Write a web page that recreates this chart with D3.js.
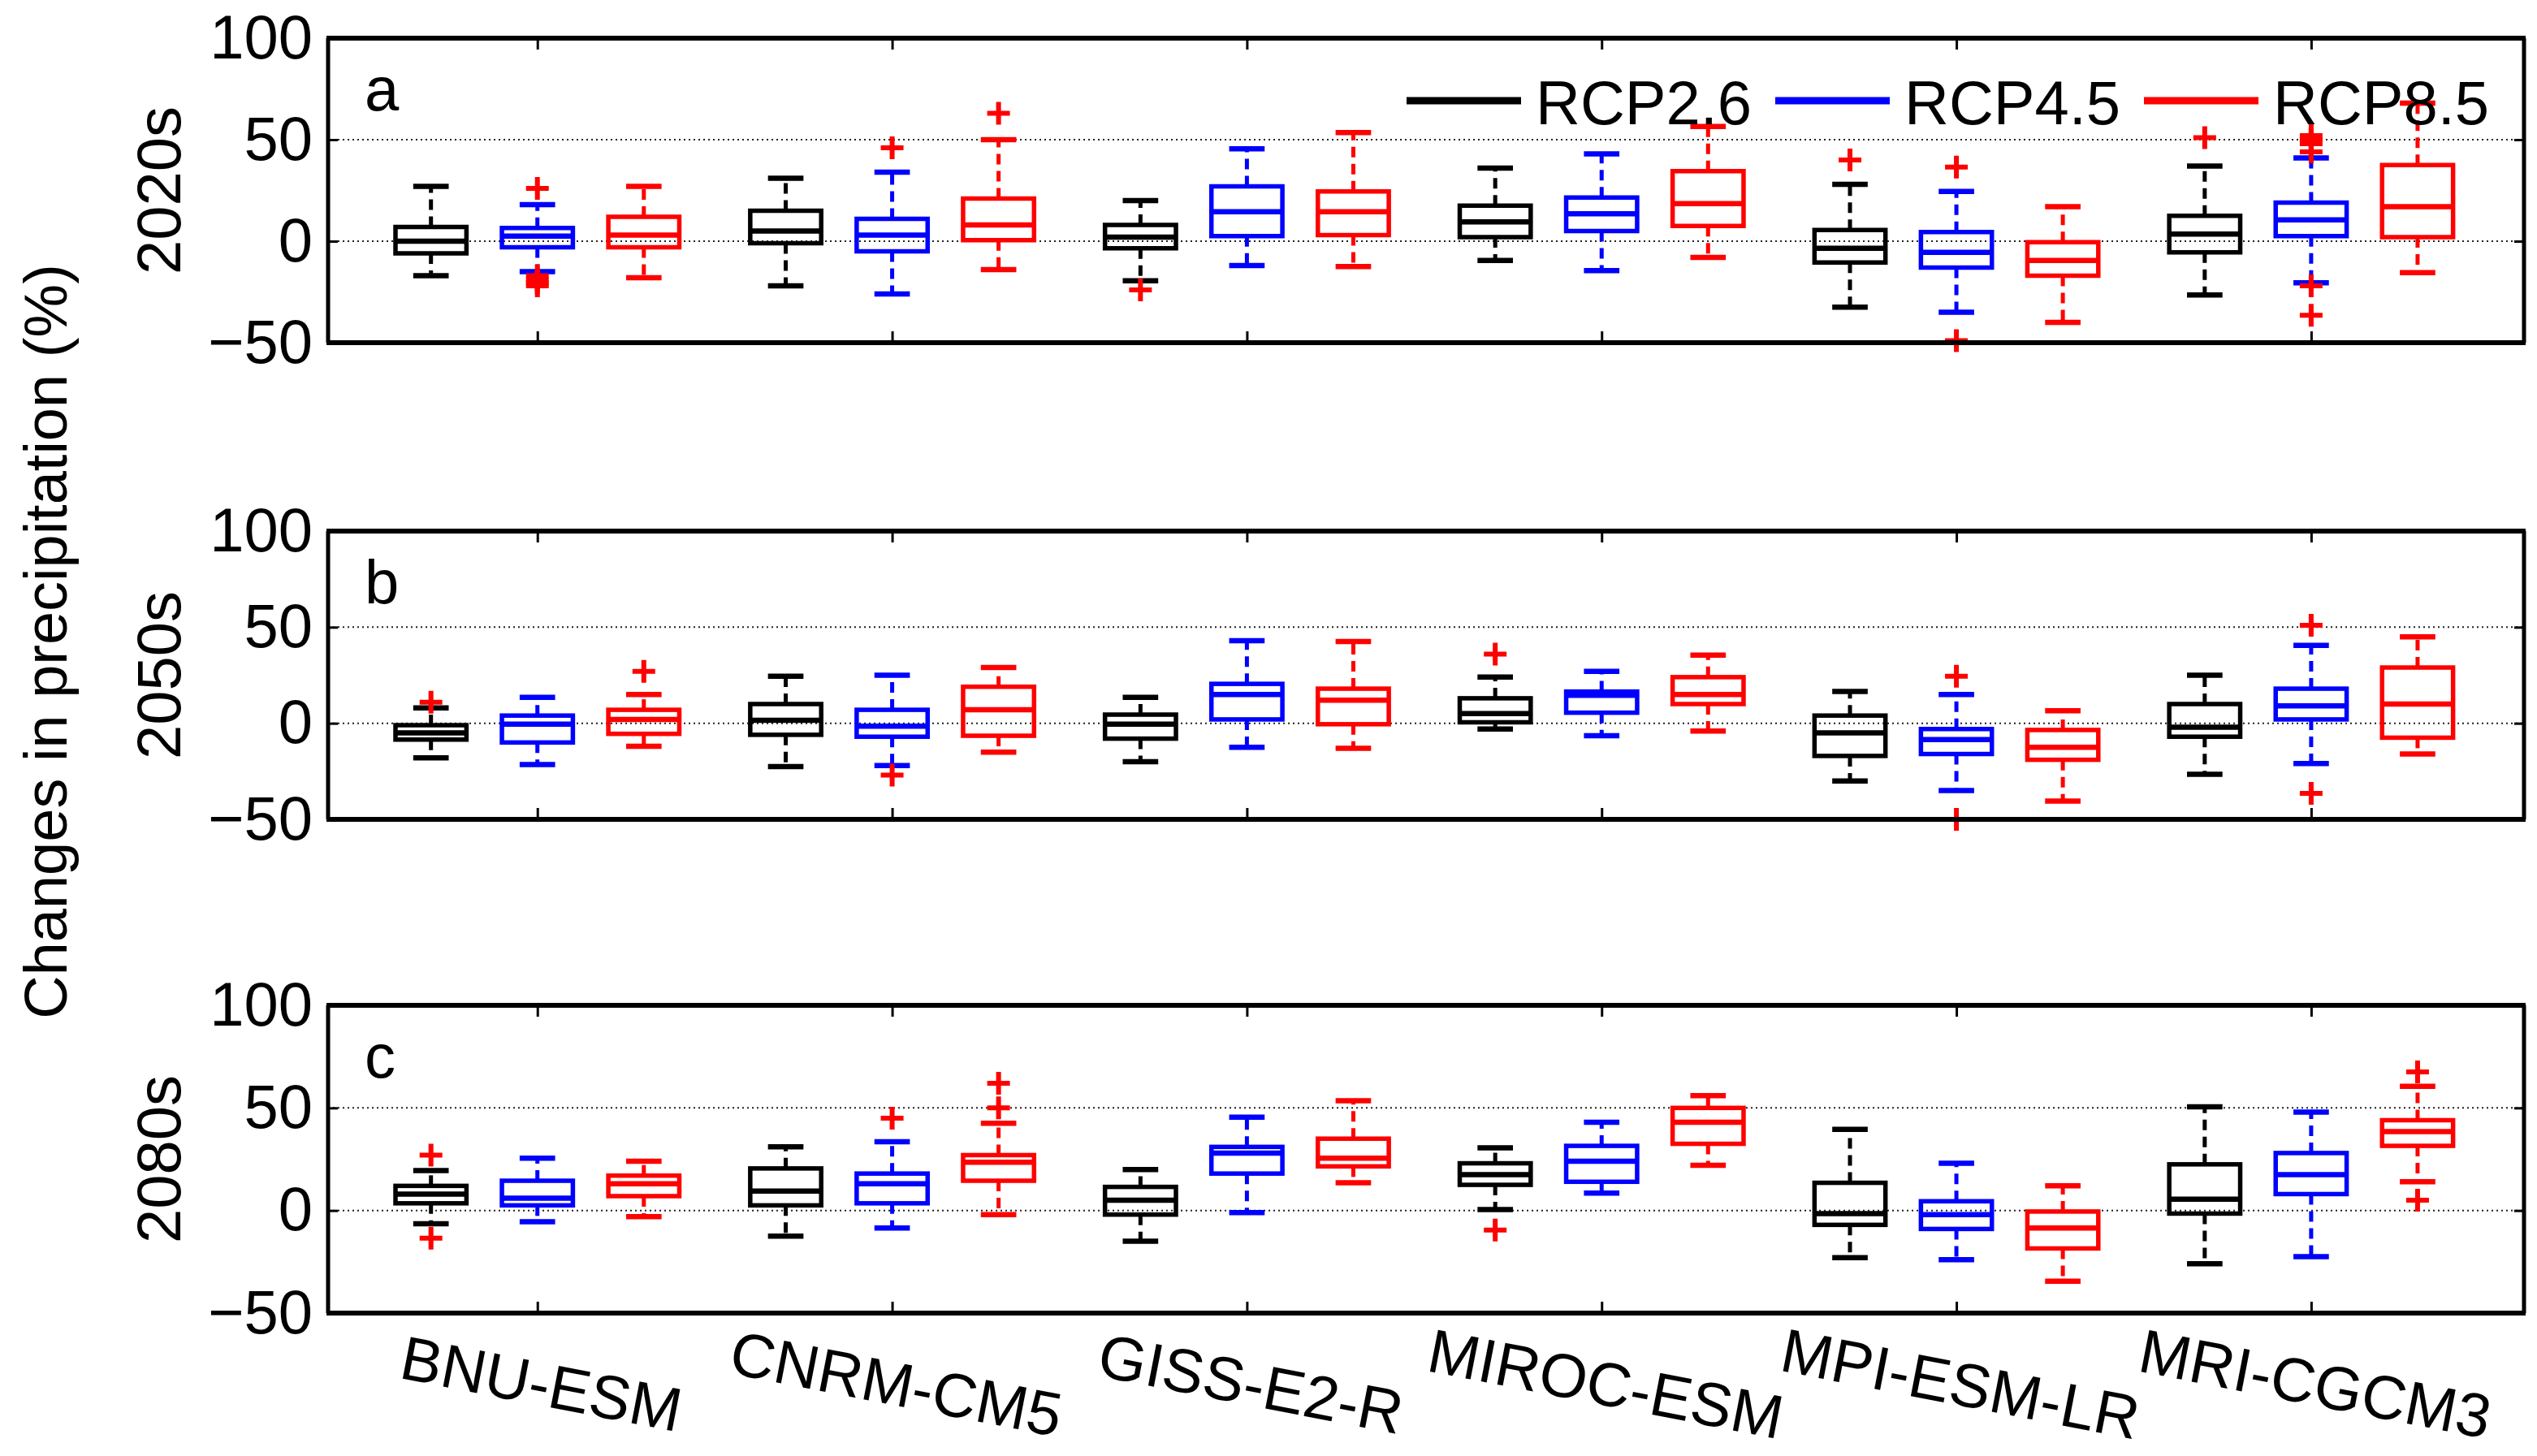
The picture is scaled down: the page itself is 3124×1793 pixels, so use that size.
<!DOCTYPE html>
<html><head><meta charset="utf-8">
<script src="https://cdn.jsdelivr.net/npm/d3@7"></script>
<style>html,body{margin:0;padding:0;background:#fff;} svg{display:block;}</style>
</head><body>
<script>
// ---------------- DATA ----------------
const models = ["BNU-ESM","CNRM-CM5","GISS-E2-R","MIROC-ESM","MPI-ESM-LR","MRI-CGCM3"];
const scenarios = ["RCP2.6","RCP4.5","RCP8.5"];
const scenarioColors = ["#000000","#0000ff","#ff0000"];
const periods = ["2020s","2050s","2080s"];
const panelLetters = ["a","b","c"];
const yTicks = [-50, 0, 50, 100];
const gridValues = [0, 50];

// per model, per scenario: [lower whisker, q1, median, q3, upper whisker]
const stats2020s = [
  [[-17,-6,0,7,27],      [-15,-3,2.5,6.5,18],   [-18,-3,3,12,27]],
  [[-22,-1,5,15,31],     [-26,-5,3,11,34],      [-14,0.5,8,21,50]],
  [[-19.5,-3.5,2,8,20],  [-12,2.5,14.5,27,45.5],[-12.5,3,14.5,24.5,53.5]],
  [[-9.5,2,9.5,17.5,36], [-14.5,5,13.5,21.5,43],[-8,7.5,18.5,34.5,56.5]],
  [[-32.5,-10.5,-3.5,5.5,28],[-35,-13,-5.5,4.5,24.5],[-40,-17,-9.5,-0.5,17]],
  [[-26.5,-5.5,3.5,12.5,37],[-20.5,2.5,10.5,19,41],[-15.5,2,17,37.5,68]]
];
const stats2050s = [
  [[-18,-8.5,-5,-1,8],   [-21.5,-10,-0.5,4,13.5],[-12,-5.5,2,7,15]],
  [[-22.5,-6,1.5,10,24.5],[-22,-7,-1.5,7,25],   [-15,-6.5,7,19,29]],
  [[-20,-8,-0.5,4.5,13.5],[-12.5,2,15,20.5,43], [-13,-0.5,12,18,42.5]],
  [[-3,0.5,5,13,24],     [-6.5,5.5,14.5,16.5,27],[-4,10,15,24,35.5]],
  [[-30,-17,-5,4,16.5],  [-35,-16,-8.5,-3,15],  [-40.5,-19,-12.5,-3.5,6.5]],
  [[-26.5,-7,-2,10,25],  [-21,2,9,18,40.5],     [-16,-7.5,10,29,45]]
];
const stats2080s = [
  [[-6.5,3.5,8,12,19.5], [-5.5,2.5,6,14.5,25.5],[-3,7,13,17,24]],
  [[-12.5,2.5,9.5,20.5,31],[-8.5,3.5,13,18,33.5],[-2,14.5,23.5,27,42.5]],
  [[-15,-2,5,11.5,20],   [-1,18,28,31,45.5],    [13.5,21.5,25.5,35,53.5]],
  [[0.5,12.5,17.5,23,30.5],[8.5,14,24,31.5,43], [22,32.5,43,50,56]],
  [[-23,-7,-1.5,13.5,39.5],[-24,-9,-2,4.5,23],  [-34.5,-18.5,-8.5,-0.5,12]],
  [[-26,-1.5,5.5,22.5,50.5],[-22.5,8,17.5,28,48],[14,31.5,38.5,44,60.5]]
];
// outliers: [model index, scenario index, value]
const outliers2020s = [
  [0,1,26],[0,1,-17],[0,1,-19],[0,1,-20.5],[0,1,-22],
  [1,1,46],[1,2,63],
  [2,0,-24],
  [4,0,40],[4,1,36.5],[4,1,-49],
  [5,0,51],[5,1,52],[5,1,50],[5,1,48],[5,1,44],[5,1,-22],[5,1,-36.5]
];
const outliers2050s = [
  [0,0,11],[0,2,27],
  [1,1,-27],
  [3,0,36],
  [4,1,24.5],[4,1,-50],
  [5,1,51],[5,1,-36.5]
];
const outliers2080s = [
  [0,0,27],[0,0,-13.5],
  [1,1,45],[1,2,62],[1,2,50],
  [3,0,-9.5],
  [5,2,67.5],[5,2,5]
];

// ---------------- LAYOUT ----------------
const W = 3124, H = 1793;
const plotLeft = 404, plotRight = 3108;
const panelTops = [47, 654, 1238];
const panelBottoms = [422, 1009, 1617];
const FONT = "'Liberation Sans', Arial, Helvetica, sans-serif";
const FS = 76;

const statsByPanel = [stats2020s, stats2050s, stats2080s];
const outliersByPanel = [outliers2020s, outliers2050s, outliers2080s];

const svg = d3.select("body").append("svg")
  .attr("width", W).attr("height", H)
  .attr("viewBox", `0 0 ${W} ${H}`)
  .style("font-family", FONT);
svg.append("rect").attr("width", W).attr("height", H).attr("fill", "#fff");

const x = d3.scaleLinear().domain([-0.59, 5.6]).range([plotLeft, plotRight]);
const offset = 0.3;            // scenario offset in model units
const boxHalf = (x(0.1) - x(-0.1)) / 2;
const capHalf = boxHalf / 2;
const plusHalf = 14;

periods.forEach((period, p) => {
  const y = d3.scaleLinear().domain([-50, 100]).range([panelBottoms[p], panelTops[p]]);
  const g = svg.append("g");

  // grid lines
  g.selectAll(".grid").data(gridValues).join("line")
    .attr("x1", plotLeft).attr("x2", plotRight)
    .attr("y1", d => y(d)).attr("y2", d => y(d))
    .attr("stroke", "#222").attr("stroke-width", 2)
    .attr("stroke-dasharray", "2,4");

  // axes ticks (inward)
  const yAxis = d3.axisLeft(y).tickValues(yTicks).tickSize(-12).tickPadding(19)
    .tickFormat(d3.format("d"));
  const ga = g.append("g").attr("transform", `translate(${plotLeft},0)`).call(yAxis);
  ga.select(".domain").remove();
  ga.selectAll("line").attr("stroke", "#000").attr("stroke-width", 3);
  ga.selectAll("text").attr("font-size", FS).attr("font-family", FONT).attr("fill", "#000");

  const gr = g.append("g").attr("transform", `translate(${plotRight},0)`)
    .call(d3.axisRight(y).tickValues(yTicks).tickSize(-12).tickFormat(""));
  gr.select(".domain").remove();
  gr.selectAll("line").attr("stroke", "#000").attr("stroke-width", 3);

  const xt = d3.range(models.length);
  const gb = g.append("g").attr("transform", `translate(0,${panelBottoms[p]})`)
    .call(d3.axisBottom(x).tickValues(xt).tickSize(-14).tickFormat(""));
  gb.select(".domain").remove();
  gb.selectAll("line").attr("stroke", "#000").attr("stroke-width", 3);
  const gt = g.append("g").attr("transform", `translate(0,${panelTops[p]})`)
    .call(d3.axisTop(x).tickValues(xt).tickSize(-14).tickFormat(""));
  gt.select(".domain").remove();
  gt.selectAll("line").attr("stroke", "#000").attr("stroke-width", 3);

  // boxes
  const stats = statsByPanel[p];
  const boxes = [];
  stats.forEach((row, m) => row.forEach((s, k) => boxes.push({m, k, s})));

  const bg = g.selectAll(".box").data(boxes).join("g")
    .attr("transform", d => `translate(${x(d.m + (d.k - 1) * offset)},0)`);
  // whiskers
  bg.append("line").attr("x1", 0).attr("x2", 0)
    .attr("y1", d => y(d.s[3])).attr("y2", d => y(d.s[4]))
    .attr("stroke", d => scenarioColors[d.k]).attr("stroke-width", 5)
    .attr("stroke-dasharray", "13,8");
  bg.append("line").attr("x1", 0).attr("x2", 0)
    .attr("y1", d => y(d.s[1])).attr("y2", d => y(d.s[0]))
    .attr("stroke", d => scenarioColors[d.k]).attr("stroke-width", 5)
    .attr("stroke-dasharray", "13,8");
  // caps
  [0, 4].forEach(i => {
    bg.append("line").attr("x1", -capHalf).attr("x2", capHalf)
      .attr("y1", d => y(d.s[i])).attr("y2", d => y(d.s[i]))
      .attr("stroke", d => scenarioColors[d.k]).attr("stroke-width", 6.5);
  });
  // box
  bg.append("rect").attr("x", -boxHalf).attr("width", 2 * boxHalf)
    .attr("y", d => y(d.s[3])).attr("height", d => y(d.s[1]) - y(d.s[3]))
    .attr("fill", "none").attr("stroke", d => scenarioColors[d.k]).attr("stroke-width", 5.5);
  // median
  bg.append("line").attr("x1", -boxHalf).attr("x2", boxHalf)
    .attr("y1", d => y(d.s[2])).attr("y2", d => y(d.s[2]))
    .attr("stroke", d => scenarioColors[d.k]).attr("stroke-width", 6.5);

  // outliers
  const outs = outliersByPanel[p];
  g.selectAll(".out").data(outs).join("path")
    .attr("transform", d => `translate(${x(d[0] + (d[1] - 1) * offset)},${y(d[2])})`)
    .attr("d", `M${-plusHalf},0H${plusHalf}M0,${-plusHalf}V${plusHalf}`)
    .attr("stroke", "#ff0000").attr("stroke-width", 6).attr("fill", "none");

  // frame
  g.append("line").attr("x1", plotLeft - 2).attr("x2", plotRight + 2)
    .attr("y1", panelTops[p]).attr("y2", panelTops[p]).attr("stroke", "#000").attr("stroke-width", 6);
  g.append("line").attr("x1", plotLeft - 2).attr("x2", plotRight + 2)
    .attr("y1", panelBottoms[p]).attr("y2", panelBottoms[p]).attr("stroke", "#000").attr("stroke-width", 6);
  g.append("line").attr("x1", plotLeft).attr("x2", plotLeft)
    .attr("y1", panelTops[p]).attr("y2", panelBottoms[p]).attr("stroke", "#000").attr("stroke-width", 5);
  g.append("line").attr("x1", plotRight).attr("x2", plotRight)
    .attr("y1", panelTops[p]).attr("y2", panelBottoms[p]).attr("stroke", "#000").attr("stroke-width", 5);

  // panel letter
  g.append("text").attr("x", 449).attr("y", panelTops[p] + 89)
    .attr("font-size", FS).attr("fill", "#000").text(panelLetters[p]);

  // period label
  const cy = (panelTops[p] + panelBottoms[p]) / 2;
  g.append("text").attr("transform", `translate(222,${cy}) rotate(-90)`)
    .attr("text-anchor", "middle").attr("font-size", FS).attr("fill", "#000").text(period);

  // legend in first panel
  if (p === 0) {
    const lg = g.selectAll(".leg").data(scenarios).join("g")
      .attr("transform", (d, i) => `translate(${1732 + i * 454},0)`);
    lg.append("line").attr("x1", 0).attr("x2", 141).attr("y1", 124).attr("y2", 124)
      .attr("stroke", (d, i) => scenarioColors[i]).attr("stroke-width", 9);
    lg.append("text").attr("x", 159).attr("y", 153).attr("font-size", FS)
      .attr("fill", "#000").text(d => d);
  }
});

// model labels (slanted)
svg.selectAll(".xlab").data(models).join("text")
  .attr("transform", (d, i) => `translate(${x(i)},1730) rotate(11)`)
  .attr("text-anchor", "middle").attr("font-size", FS).attr("fill", "#000")
  .text(d => d);

// y label
svg.append("text").attr("transform", `translate(82,790) rotate(-90)`)
  .attr("text-anchor", "middle").attr("font-size", 74).attr("fill", "#000")
  .text("Changes in precipitation (%)");
</script>
</body></html>
